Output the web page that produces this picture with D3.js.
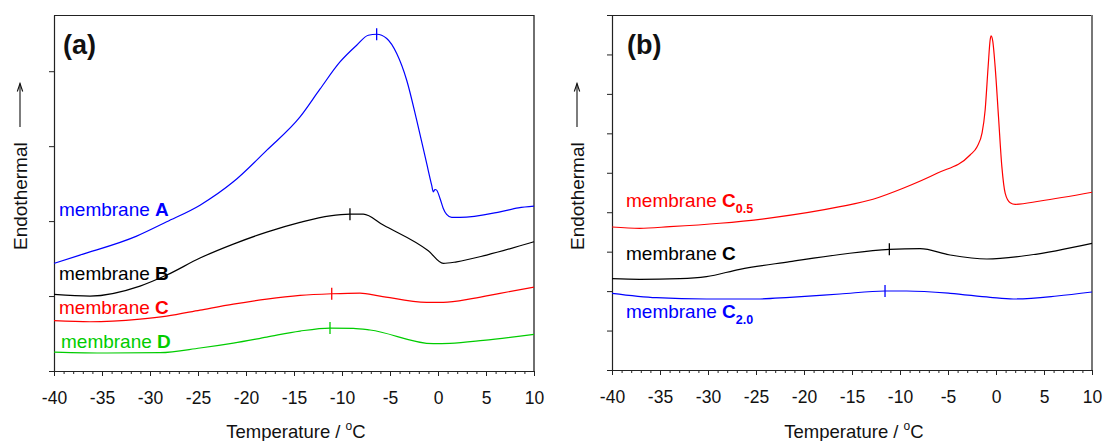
<!DOCTYPE html>
<html>
<head>
<meta charset="utf-8">
<script src="https://cdn.jsdelivr.net/npm/d3@7"></script>
<style>
  html, body { margin: 0; padding: 0; background: #fff; }
  svg { display: block; font-family: "Liberation Sans", Arial, sans-serif; }
</style>
</head>
<body>
<svg id="chart" width="1103" height="441"></svg>
<script>
// ---------------- DATA ----------------
const xMajorTicks = [-40, -35, -30, -25, -20, -15, -10, -5, 0, 5, 10];
const xMinorTicks = d3.range(-40, 11, 1);
const yTicksA = [0, 1, 2, 3, 4];
const yTicksB = [0, 1, 2, 3, 4, 5, 6, 7, 8, 9];

// Panel (a) curves: [temperature, heat flow (arb. units)]
const membraneA = [[-40,1.436],[-37.3,1.547],[-31.39,1.80],[-28.26,1.991],[-24.79,2.213],[-21.32,2.524],
  [-17.8,2.95],[-14.37,3.39],[-12.3,3.76],[-10.21,4.124],[-8.47,4.347],[-7.26,4.48],[-6.39,4.493],[-5.34,4.436],
  [-4.30,4.236],[-3.26,3.88],[-2.22,3.347],[-1.18,2.769],[-0.66,2.48],[-0.49,2.391],[-0.31,2.422],
  [-0.14,2.413],[0.21,2.302],[0.55,2.169],[0.9,2.089],[1.43,2.049],[2.29,2.049],[6.46,2.124],[8.37,2.177],[10,2.2]];
const membraneB = [[-40,1.023],[-36.25,1.0],[-31.04,1.133],[-28.26,1.28],[-24.79,1.507],[-21.32,1.693],
  [-17.84,1.853],[-14.37,1.983],[-11.25,2.071],[-9.17,2.093],[-7.78,2.093],[-5.70,1.947],[-1.01,1.604],
  [0.55,1.436],[1.95,1.457],[5.07,1.547],[10,1.725]];
const membraneC = [[-40,0.671],[-36.25,0.657],[-31.04,0.693],[-28.26,0.733],[-24.79,0.813],[-21.32,0.893],
  [-17.84,0.96],[-14.37,1.009],[-11.07,1.031],[-8.13,1.04],[-6.04,1.0],[-1.18,0.916],[0.55,0.916],
  [3.68,0.969],[6.46,1.036],[10,1.12]];
const membraneD = [[-40,0.253],[-34.48,0.24],[-28.96,0.244],[-24.79,0.307],[-21.32,0.373],[-17.84,0.453],
  [-14.37,0.533],[-11.25,0.573],[-8.82,0.569],[-7.08,0.547],[-0.49,0.364],[1.25,0.369],[4.72,0.409],[10,0.489]];

// Panel (b) curves
const membraneC05 = [[-40,3.626],[-37.11,3.593],[-33.98,3.633],[-28.77,3.72],[-23.24,3.862],[-16.25,4.14],
  [-12.81,4.328],[-9.68,4.607],[-6.14,4.987],[-2.70,5.451],[-1.97,5.662],[-1.45,6.009],[-1.13,6.592],
  [-0.82,7.69],[-0.61,8.367],[-0.51,8.469],[-0.33,8.324],[-0.09,7.69],[0.26,6.422],[0.61,5.155],
  [0.96,4.48],[1.48,4.242],[2.0,4.201],[4.61,4.285],[10,4.506]];
const membraneCb = [[-40,2.315],[-37.11,2.30],[-32.94,2.315],[-30.16,2.366],[-26.69,2.553],[-21.47,2.746],
  [-16.25,2.928],[-11.11,3.06],[-7.91,3.076],[-4.78,2.916],[-0.95,2.814],[3.56,2.916],[10,3.212]];
const membraneC20 = [[-40,1.945],[-35.37,1.833],[-30.15,1.80],[-24.94,1.80],[-21.47,1.843],[-16.25,1.927],
  [-11.56,2.003],[-9.30,2.003],[-4.78,1.945],[-0.61,1.843],[1.79,1.80],[6.35,1.876],[10,1.978]];

// Peak markers (temperature of the short vertical tick on each curve)
const peaksA = [-6.39, -9.17, -11.07, -11.25];
const peaksB = [null, -11.11, -11.56];

// Text
const panelTitles = ["(a)", "(b)"];
const labelsA = [["membrane ", "A", ""], ["membrane ", "B", ""], ["membrane ", "C", ""], ["membrane ", "D", ""]];
const labelsB = [["membrane ", "C", "0.5"], ["membrane ", "C", ""], ["membrane ", "C", "2.0"]];
const xTitle = ["Temperature / ", "o", "C"];
const yTitle = "Endothermal";

// ---------------- DRAWING ----------------
const svg = d3.select("#chart");
const colorsA = ["#0000ff", "#000000", "#ff0000", "#00cc00"];
const colorsB = ["#ff0000", "#000000", "#0000ff"];

const panels = [
  { x0: 54, x1: 534, y0: 15, y1: 371, yMax: 4.75, yTicks: yTicksA, series: [membraneA, membraneB, membraneC, membraneD],
    colors: colorsA, peaks: peaksA, labels: labelsA, labelX: 59, labelY: [216, 280, 314, 348],
    titleX: 63, yLabelX: 26.5, arrowX: 20, borderColor: "#222", borderW: 1.3 },
  { x0: 612, x1: 1092, y0: 15, y1: 370, yMax: 9, yTicks: yTicksB, series: [membraneC05, membraneCb, membraneC20],
    colors: colorsB, peaks: peaksB, labels: labelsB, labelX: 626, labelY: [207, 260, 318],
    titleX: 627, yLabelX: 583.5, arrowX: 577, borderColor: "#777", borderW: 2 }
];

panels.forEach((p, pi) => {
  const x = d3.scaleLinear().domain([-40, 10]).range([p.x0, p.x1]);
  const y = d3.scaleLinear().domain([0, p.yMax]).range([p.y1, p.y0]);
  const g = svg.append("g");

  g.append("line").attr("x1", p.x0).attr("x2", p.x1).attr("y1", p.y0 + 0.5).attr("y2", p.y0 + 0.5)
    .attr("stroke", "#222").attr("stroke-width", 1.2);
  g.append("line").attr("x1", p.x1).attr("x2", p.x1).attr("y1", p.y0).attr("y2", p.y1)
    .attr("stroke", p.borderColor).attr("stroke-width", p.borderW);

  const minor = g.append("g").attr("transform", `translate(0,${p.y1})`)
    .call(d3.axisBottom(x).tickValues(xMinorTicks).tickSize(3).tickFormat(""));
  minor.select(".domain").remove();
  minor.selectAll("line").attr("stroke", "#222");

  const xa = g.append("g").attr("transform", `translate(0,${p.y1})`)
    .call(d3.axisBottom(x).tickValues(xMajorTicks).tickSize(5).tickSizeOuter(0).tickPadding(16).tickFormat(d => String(d)));
  xa.selectAll("text").attr("font-size", 17.5).attr("fill", "#111").attr("font-family", "Liberation Sans, Arial, sans-serif");
  xa.select(".domain").attr("stroke", "#222").attr("stroke-width", 1.2);
  xa.selectAll("line").attr("stroke", "#222");

  const ya = g.append("g").attr("transform", `translate(${p.x0},0)`)
    .call(d3.axisLeft(y).tickValues(p.yTicks).tickSize(5).tickSizeOuter(0).tickFormat(""));
  ya.select(".domain").attr("stroke", "#222").attr("stroke-width", 1.2);
  ya.selectAll("line").attr("stroke", "#222");

  const line = d3.line().x(d => x(d[0])).y(d => y(d[1])).curve(d3.curveMonotoneX);
  p.series.forEach((s, si) => {
    g.append("path").datum(s).attr("d", line).attr("fill", "none")
      .attr("stroke", p.colors[si]).attr("stroke-width", 1.2).attr("stroke-linejoin", "round");
    const pk = p.peaks[si];
    if (pk !== null && pk !== undefined) {
      const bis = d3.bisector(d => d[0]).left;
      const i = Math.max(1, bis(s, pk));
      const a = s[i - 1], b = s[i];
      const t = (pk - a[0]) / (b[0] - a[0]);
      const v = a[1] + t * (b[1] - a[1]);
      g.append("line").attr("x1", x(pk)).attr("x2", x(pk))
        .attr("y1", y(v) - 6).attr("y2", y(v) + 6)
        .attr("stroke", p.colors[si]).attr("stroke-width", 1.3);
    }
  });

  p.labels.forEach((lb, li) => {
    const t = g.append("text").attr("x", li === 3 ? p.labelX + 2 : p.labelX).attr("y", p.labelY[li])
      .attr("font-size", 19).attr("fill", p.colors[li]);
    t.append("tspan").text(lb[0]);
    t.append("tspan").attr("font-weight", "bold").text(lb[1]);
    if (lb[2]) t.append("tspan").attr("font-weight", "bold").attr("font-size", 12.5).attr("dy", 6).text(lb[2]);
  });

  g.append("text").attr("x", p.titleX).attr("y", 54).attr("font-size", 27).attr("font-weight", "bold")
    .attr("fill", "#111").text(panelTitles[pi]);

  const xt = g.append("text").attr("x", (p.x0 + p.x1) / 2 + 2).attr("y", 438).attr("text-anchor", "middle")
    .attr("font-size", 18.5).attr("fill", "#111");
  xt.append("tspan").text(xTitle[0]);
  xt.append("tspan").attr("font-size", 12).attr("dy", -8).text(xTitle[1]);
  xt.append("tspan").attr("dy", 8).text(xTitle[2]);

  g.append("text").attr("transform", `translate(${p.yLabelX},250) rotate(-90)`)
    .attr("font-size", 19).attr("fill", "#111").text(yTitle);
  g.append("line").attr("x1", p.arrowX).attr("x2", p.arrowX).attr("y1", 127).attr("y2", 83.5)
    .attr("stroke", "#111").attr("stroke-width", 1.1);
  g.append("path").attr("d", `M${p.arrowX - 2.7},91.5 L${p.arrowX},83.5 L${p.arrowX + 2.7},91.5`)
    .attr("fill", "none").attr("stroke", "#111").attr("stroke-width", 1.1);
});
</script>
</body>
</html>
